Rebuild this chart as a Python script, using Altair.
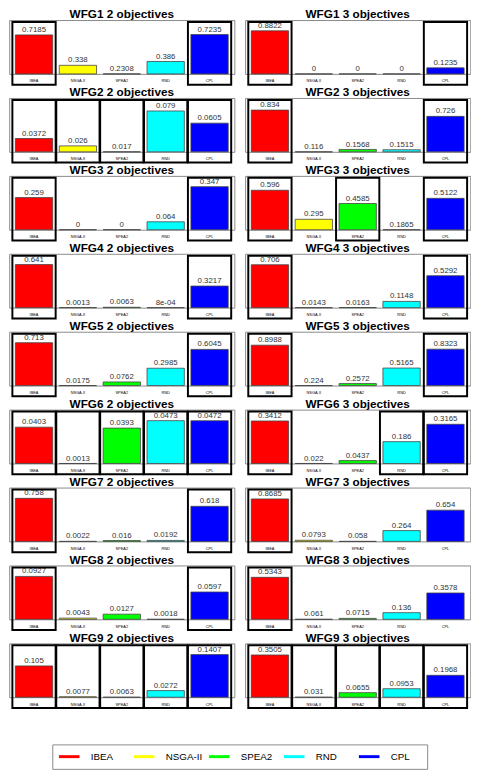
import altair as alt
import pandas as pd

algorithms = ["IBEA", "NSGA-II", "SPEA2", "RND", "CPL"]
colors = ["#ff0000", "#ffff00", "#00ff00", "#00ffff", "#0000ff"]

panels = [
    "WFG1 2 objectives", "WFG1 3 objectives",
    "WFG2 2 objectives", "WFG2 3 objectives",
    "WFG3 2 objectives", "WFG3 3 objectives",
    "WFG4 2 objectives", "WFG4 3 objectives",
    "WFG5 2 objectives", "WFG5 3 objectives",
    "WFG6 2 objectives", "WFG6 3 objectives",
    "WFG7 2 objectives", "WFG7 3 objectives",
    "WFG8 2 objectives", "WFG8 3 objectives",
    "WFG9 2 objectives", "WFG9 3 objectives",
]

# values in order IBEA, NSGA-II, SPEA2, RND, CPL
values = [
    [0.7185, 0.338, 0.2308, 0.386, 0.7235],
    [0.8822, 0, 0, 0, 0.1235],
    [0.0372, 0.026, 0.017, 0.079, 0.0605],
    [0.834, 0.116, 0.1568, 0.1515, 0.726],
    [0.259, 0, 0, 0.064, 0.347],
    [0.596, 0.295, 0.4585, 0.1865, 0.5122],
    [0.641, 0.0013, 0.0063, 0.0008, 0.3217],
    [0.706, 0.0143, 0.0163, 0.1148, 0.5292],
    [0.713, 0.0175, 0.0762, 0.2985, 0.6045],
    [0.8988, 0.224, 0.2572, 0.5165, 0.8323],
    [0.0403, 0.0013, 0.0393, 0.0473, 0.0472],
    [0.3412, 0.022, 0.0437, 0.186, 0.3165],
    [0.758, 0.0022, 0.016, 0.0192, 0.618],
    [0.8685, 0.0793, 0.058, 0.264, 0.654],
    [0.0927, 0.0043, 0.0127, 0.0018, 0.0597],
    [0.5343, 0.061, 0.0715, 0.136, 0.3578],
    [0.105, 0.0077, 0.0063, 0.0272, 0.1407],
    [0.3505, 0.031, 0.0655, 0.0953, 0.1968],
]

# framed (highlighted) bars
highlight = [
    [1, 0, 0, 0, 1], [1, 0, 0, 0, 1],
    [1, 1, 1, 1, 1], [1, 0, 0, 0, 1],
    [1, 0, 0, 0, 1], [1, 0, 1, 0, 1],
    [1, 0, 0, 0, 1], [1, 0, 0, 0, 1],
    [1, 0, 0, 0, 1], [1, 0, 0, 0, 1],
    [1, 1, 1, 1, 1], [1, 0, 0, 1, 1],
    [1, 0, 0, 0, 1], [1, 0, 0, 0, 0],
    [1, 0, 0, 0, 1], [1, 0, 0, 0, 0],
    [1, 1, 1, 1, 1], [1, 1, 1, 1, 1],
]


def fmt(v):
    if v == 0:
        return "0"
    if v < 0.001:
        return f"{v:.0e}"
    return repr(v)


rows = []
for p, vals, hl in zip(panels, values, highlight):
    for a, v, h in zip(algorithms, vals, hl):
        rows.append({"panel": p, "algo": a, "value": v, "label": fmt(v), "best": h})
df = pd.DataFrame(rows)
legend_df = pd.DataFrame({"method": algorithms})

FONT = "Liberation Sans"
W, H = 230, 55

x_enc = alt.X(
    "algo:N", sort=algorithms,
    scale=alt.Scale(paddingInner=0.15, paddingOuter=0.14),
    axis=alt.Axis(title=None, labelAngle=0, labelFontSize=4, ticks=False, domain=False,
                  labelPadding=5, labelColor="black", labelFont=FONT),
)
y_scale = alt.Scale(zero=False, nice=False)
color_scale = alt.Scale(domain=algorithms, range=colors)

bars = alt.Chart().mark_bar(stroke="#444", strokeWidth=0.8).encode(
    x=x_enc,
    y=alt.Y("value:Q", scale=y_scale, axis=None),
    y2=alt.Y2("vmin:Q"),
    fill=alt.Fill("algo:N", scale=color_scale, legend=None),
)

texts = alt.Chart().mark_text(baseline="bottom", dy=-1, fontSize=8, font=FONT, color="#333").encode(
    x=x_enc,
    y=alt.Y("value:Q", scale=y_scale, axis=None),
    text="label:N",
)

boxes = alt.Chart().transform_filter("datum.best == 1").mark_bar(
    filled=False, stroke="black", strokeWidth=2, width=alt.RelativeBandSize(1.16)
).encode(
    x=x_enc,
    y=alt.value(2),
    y2=alt.value(H + 11),
)

# sets the top of each panel's value range (invisible)
top_layer = alt.Chart().mark_point(opacity=0).encode(
    x=x_enc,
    y=alt.Y("ytop:Q", scale=y_scale, axis=None),
)

layered = alt.layer(bars, texts, boxes, top_layer).transform_joinaggregate(
    vmin="min(value)", vmax="max(value)", groupby=["panel"]
).transform_calculate(ytop="1.25 * datum.vmax").properties(width=W, height=H)

facet_chart = layered.facet(
    facet=alt.Facet(
        "panel:N", sort=panels,
        header=alt.Header(title=None, labelFontSize=12, labelFontWeight="bold",
                          labelFont=FONT, labelColor="black", labelPadding=-4),
    ),
    columns=2,
    data=df,
    spacing={"row": 24.6, "column": 11},
    bounds="flush",
).resolve_scale(y="independent").resolve_axis(x="independent")

# legend drawn as its own small chart
lx = alt.Scale(domain=algorithms, paddingInner=0, paddingOuter=0.053)
leg_sym = alt.Chart(legend_df).mark_point(
    shape="stroke", size=441, strokeWidth=3, filled=False, opacity=1, xOffset=-21
).encode(
    x=alt.X("method:N", sort=algorithms, scale=lx, axis=None),
    y=alt.value(12.5),
    color=alt.Color("method:N", scale=color_scale, legend=None),
)
leg_txt = alt.Chart(legend_df).mark_text(
    align="left", baseline="middle", fontSize=10, font=FONT, color="black", dx=1
).encode(
    x=alt.X("method:N", sort=algorithms, scale=lx, axis=None),
    y=alt.value(12.5),
    text="method:N",
)
legend_chart = alt.layer(leg_sym, leg_txt).properties(width=383, height=25)

chart = alt.vconcat(facet_chart, legend_chart, spacing=34, center=True).configure_view(
    stroke="#888", strokeWidth=1
).properties(padding={"top": -9, "left": 0, "right": 0, "bottom": 0})

chart.save("out.html", embed_options={"renderer": "svg", "actions": False})
